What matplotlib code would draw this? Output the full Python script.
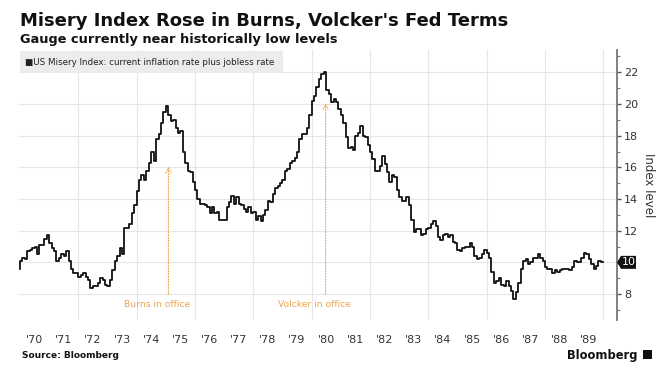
import matplotlib
matplotlib.use("Agg")
import matplotlib.pyplot as plt
import matplotlib.ticker as mticker
from matplotlib.patches import Rectangle, Polygon
import numpy as np

# Monthly US Misery Index (inflation + unemployment), Dec 1969 .. Dec 1989
start_year = 1969 + 11 / 12
misery = [
    9.6,
    10.1, 10.3, 10.2, 10.7, 10.8, 10.9, 11.0, 10.5, 11.1, 11.1, 11.5, 11.7,  # 1970
    11.2, 10.9, 10.7, 10.1, 10.3, 10.5, 10.4, 10.7, 10.1, 9.6, 9.3, 9.3,     # 1971
    9.1, 9.2, 9.3, 9.1, 8.9, 8.4, 8.5, 8.5, 8.7, 9.0, 8.9, 8.6,              # 1972
    8.5, 8.9, 9.5, 10.1, 10.4, 10.9, 10.5, 12.2, 12.2, 12.4, 13.1, 13.6,     # 1973
    14.5, 15.2, 15.5, 15.2, 15.8, 16.3, 17.0, 16.4, 17.8, 18.1, 18.8, 19.5,  # 1974
    19.9, 19.3, 18.9, 19.0, 18.5, 18.2, 18.3, 17.0, 16.3, 15.8, 15.7, 15.1,  # 1975
    14.6, 14.0, 13.7, 13.7, 13.6, 13.5, 13.1, 13.5, 13.1, 13.2, 12.7, 12.7,  # 1976
    12.7, 13.5, 13.8, 14.2, 13.7, 14.1, 13.7, 13.6, 13.4, 13.2, 13.5, 13.1,  # 1977
    13.2, 12.7, 12.9, 12.6, 13.0, 13.3, 13.9, 13.8, 14.3, 14.7, 14.8, 15.0,  # 1978
    15.2, 15.8, 15.9, 16.3, 16.4, 16.6, 17.0, 17.8, 18.1, 18.1, 18.5, 19.3,  # 1979
    20.2, 20.5, 21.1, 21.6, 21.9, 22.0, 20.9, 20.6, 20.1, 20.3, 20.1, 19.7,  # 1980
    19.3, 18.8, 17.9, 17.2, 17.3, 17.1, 18.0, 18.2, 18.6, 18.0, 17.9, 17.4,  # 1981
    17.0, 16.5, 15.8, 15.8, 16.1, 16.7, 16.2, 15.7, 15.1, 15.5, 15.4, 14.6,  # 1982
    14.1, 13.9, 13.9, 14.1, 13.6, 12.7, 11.9, 12.1, 12.1, 11.7, 11.8, 12.1,  # 1983
    12.2, 12.4, 12.6, 12.3, 11.6, 11.4, 11.7, 11.8, 11.6, 11.7, 11.3, 11.2,  # 1984
    10.8, 10.7, 10.9, 11.0, 11.0, 11.2, 11.0, 10.4, 10.2, 10.3, 10.5, 10.8,  # 1985
    10.6, 10.3, 9.4, 8.7, 8.8, 9.0, 8.6, 8.5, 8.8, 8.5, 8.2, 7.7,            # 1986
    8.1, 8.7, 9.6, 10.1, 10.2, 9.9, 10.0, 10.3, 10.3, 10.5, 10.3, 10.1,      # 1987
    9.7, 9.6, 9.6, 9.3, 9.5, 9.4, 9.5, 9.6, 9.6, 9.6, 9.5, 9.7,              # 1988
    10.1, 10.0, 10.0, 10.3, 10.6, 10.5, 10.2, 9.9, 9.6, 9.8, 10.1, 10.0,     # 1989
]
year_labels = ["'70", "'71", "'72", "'73", "'74", "'75", "'76", "'77", "'78", "'79",
               "'80", "'81", "'82", "'83", "'84", "'85", "'86", "'87", "'88", "'89"]
label_years = list(range(1970, 1990))
burns_x, burns_tip = 1975.09, 16.04
volcker_x, volcker_tip = 1980.48, 20.06
last_value = misery[-1]

W, H = 664, 376
fig = plt.figure(figsize=(W / 100, H / 100), dpi=100)
fig.patch.set_facecolor("white")

ax_l, ax_r, ax_t, ax_b = 18.8, 617, 50, 320
ax = fig.add_axes([ax_l / W, 1 - ax_b / H, (ax_r - ax_l) / W, (ax_b - ax_t) / H])
ax.set_facecolor("white")

x = start_year + np.arange(len(misery)) / 12
x_ext = np.append(x, x[-1] + 1 / 12)
y_ext = np.append(misery, misery[-1])
ax.plot(x_ext, y_ext, drawstyle="steps-post", color="#111111", lw=1.3, zorder=3)

ax.set_xlim(1969.96, 1990.47)
ax.set_ylim(6.36, 23.41)

# grid
for yv in range(8, 23, 2):
    ax.axhline(yv, color="#e6e6e6", lw=0.8, zorder=0)
for xv in range(1972, 1991, 2):
    ax.axvline(xv, color="#e6e6e6", lw=0.8, zorder=0)

# spines & ticks
for s in ["left", "top", "bottom"]:
    ax.spines[s].set_visible(False)
ax.spines["right"].set_color("#777777")
ax.spines["right"].set_linewidth(1.3)
ax.yaxis.tick_right()
ax.yaxis.set_label_position("right")
ax.set_yticks(range(8, 23, 2))
ax.set_yticks(range(7, 24, 2), minor=True)
ax.yaxis.set_major_formatter(mticker.FuncFormatter(lambda v, p: "" if abs(v - 10) < 0.01 else f"{v:.0f}"))
ax.tick_params(axis="y", which="major", length=3, width=1, color="#555555",
               labelsize=8, labelcolor="#333333", pad=2)
ax.tick_params(axis="y", which="minor", length=2, width=0.8, color="#777777")
ax.set_ylabel("Index level", rotation=270, fontsize=8.5, color="#333333", labelpad=12)

ax.set_xticks([yr + 0.5 for yr in label_years])
ax.set_xticklabels(year_labels)
ax.tick_params(axis="x", length=0, labelsize=8, labelcolor="#333333", pad=11)

# annotations
orange = "#eda34c"
for xa, tip, txt in [(burns_x, burns_tip, "Burns in office"), (volcker_x, volcker_tip, "Volcker in office")]:
    ax.annotate("", xy=(xa, tip), xytext=(xa, 8.0),
                arrowprops=dict(arrowstyle="->", color=orange, lw=0.8, linestyle=(0, (1, 1.5)),
                                mutation_scale=9, shrinkA=0, shrinkB=0), zorder=2)
    ax.text(xa - 0.4, 7.37, txt, color=orange, fontsize=6.6, ha="center", va="center")

# legend box
fig.patches.append(Rectangle((20 / W, 1 - 73 / H), (283 - 20) / W, (73 - 51) / H,
                             transform=fig.transFigure, facecolor="#ececec", edgecolor="none", zorder=1))
fig.text(25 / W, 1 - 62.5 / H, "\u25a0US Misery Index: current inflation rate plus jobless rate",
         fontsize=6.3, color="#222222", va="center", ha="left", zorder=5)

# last value box
fig.canvas.draw()
px, py = ax.transData.transform((1990.47, last_value))
bx0, bx1 = px + 4, px + 19
bh = 6.5
fig.patches.append(Polygon([(px / W, py / H), ((px + 4) / W, (py + bh) / H),
                            (bx1 / W, (py + bh) / H), (bx1 / W, (py - bh) / H),
                            ((px + 4) / W, (py - bh) / H)],
                           closed=True, transform=fig.transFigure, facecolor="#111111",
                           edgecolor="none", zorder=6))
fig.text((bx0 + bx1) / 2 / W, py / H, f"{last_value:.0f}", color="white", fontsize=8,
         ha="center", va="center", zorder=7)

# titles
fig.text(20 / W, 1 - 26.5 / H, "Misery Index Rose in Burns, Volcker's Fed Terms",
         fontsize=13, fontweight="bold", color="#111111", ha="left", va="baseline")
fig.text(20 / W, 1 - 42.5 / H, "Gauge currently near historically low levels",
         fontsize=9.3, fontweight="bold", color="#111111", ha="left", va="baseline")

# footer
fig.text(22 / W, 1 - 356 / H, "Source: Bloomberg", fontsize=6.5, fontweight="bold",
         color="#111111", ha="left", va="center")
fig.text(638 / W, 1 - 355 / H, "Bloomberg", fontsize=8.3, color="#111111",
         ha="right", va="center", fontweight="semibold")
fig.patches.append(Rectangle((643 / W, 1 - 359 / H), 9 / W, 9 / H, transform=fig.transFigure,
                             facecolor="#111111", edgecolor="none"))

fig.savefig("out.png", dpi=100, facecolor="white")
